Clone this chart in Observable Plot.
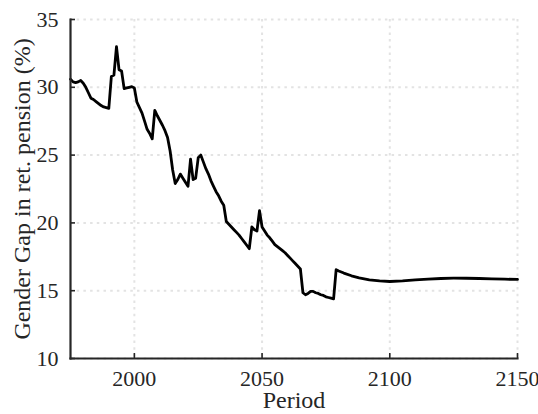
<!DOCTYPE html>
<html>
<head>
<meta charset="utf-8">
<script src="https://cdn.jsdelivr.net/npm/d3@7"></script>
<script src="https://cdn.jsdelivr.net/npm/@observablehq/plot@0.6"></script>
<style>
  html, body { margin: 0; padding: 0; background: #fff; }
  #chart svg { display: block; }
</style>
</head>
<body>
<div id="chart"></div>
<script>
// Simulated gender gap in retirement pensions, by period
const years = [
  1975, 1976, 1977, 1978, 1979, 1980, 1981, 1982, 1983, 1984,
  1985, 1986, 1987, 1988, 1989, 1990, 1991, 1992, 1993, 1994,
  1995, 1996, 1997, 1998, 1999, 2000, 2001, 2002, 2003, 2004,
  2005, 2006, 2007, 2008, 2009, 2010, 2011, 2012, 2013, 2014,
  2015, 2016, 2017, 2018, 2019, 2020, 2021, 2022, 2023, 2024,
  2025, 2026, 2027, 2028, 2029, 2030, 2031, 2032, 2033, 2034,
  2035, 2036, 2037, 2038, 2039, 2040, 2041, 2042, 2043, 2044,
  2045, 2046, 2047, 2048, 2049, 2050, 2051, 2052, 2053, 2054,
  2055, 2056, 2057, 2058, 2059, 2060, 2061, 2062, 2063, 2064,
  2065, 2066, 2067, 2068, 2069, 2070, 2071, 2072, 2073, 2074,
  2075, 2076, 2077, 2078, 2079, 2080, 2082, 2085, 2088, 2092,
  2096, 2100, 2105, 2110, 2115, 2120, 2125, 2130, 2135, 2140,
  2145, 2150
];
const gap = [
  30.6, 30.4, 30.35, 30.4, 30.5, 30.3, 30.0, 29.6, 29.2, 29.1,
  28.95, 28.8, 28.65, 28.55, 28.5, 28.45, 30.8, 30.9, 33.0, 31.3,
  31.2, 29.9, 29.95, 30.0, 30.05, 29.95, 28.9, 28.5, 28.1, 27.5,
  26.9, 26.6, 26.2, 28.3, 27.9, 27.55, 27.2, 26.8, 26.3, 25.3,
  23.9, 22.9, 23.2, 23.6, 23.3, 23.0, 22.7, 24.7, 23.2, 23.3,
  24.8, 25.0, 24.5, 24.0, 23.6, 23.1, 22.7, 22.3, 22.0, 21.6,
  21.3, 20.1, 19.9, 19.7, 19.5, 19.3, 19.1, 18.85, 18.6, 18.35,
  18.1, 19.7, 19.5, 19.4, 20.9, 19.7, 19.4, 19.1, 18.9, 18.65,
  18.4, 18.25, 18.1, 17.95, 17.8, 17.6, 17.4, 17.2, 17.0, 16.8,
  16.6, 14.85, 14.7, 14.8, 14.95, 14.95, 14.85, 14.8, 14.7, 14.65,
  14.55, 14.5, 14.45, 14.4, 16.55, 16.45, 16.3, 16.1, 15.95, 15.8,
  15.72, 15.68, 15.72, 15.8, 15.86, 15.9, 15.92, 15.92, 15.9, 15.87,
  15.85, 15.83
];
const xTicks = [2000, 2050, 2100, 2150];
const yTicks = [10, 15, 20, 25, 30, 35];
const xTitle = "Period";
const yTitle = "Gender Gap in ret. pension (%)";

const series = years.map((year, i) => ({year, value: gap[i]}));

const axisColor = "#262626";
const gridColor = "#e3e3e3";

const chart = Plot.plot({
  width: 538,
  height: 414,
  marginLeft: 70,
  marginRight: 21,
  marginTop: 19,
  marginBottom: 56,
  style: {fontFamily: "'Liberation Serif', 'DejaVu Serif', serif", fontSize: "22px", color: axisColor, background: "#fff"},
  x: {domain: [1975, 2150]},
  y: {domain: [10, 35]},
  marks: [
    Plot.gridX(xTicks, {stroke: gridColor, strokeOpacity: 1, strokeWidth: 2, strokeDasharray: "2.5,4.2"}),
    Plot.gridY(yTicks, {stroke: gridColor, strokeOpacity: 1, strokeWidth: 2, strokeDasharray: "2.5,4.2"}),
    Plot.line(series, {x: "year", y: "value", stroke: "#000", strokeWidth: 2.8, strokeLinejoin: "round"}),
    Plot.axisX(xTicks, {tickSize: -5, tickPadding: 17, tickFormat: d => String(d), stroke: axisColor, strokeWidth: 1.6, label: null, fill: axisColor}),
    Plot.axisY(yTicks, {tickSize: -5, tickPadding: 17, tickFormat: d => String(d), stroke: axisColor, strokeWidth: 1.6, label: null, fill: axisColor}),
    Plot.frame({anchor: "left", stroke: axisColor, strokeWidth: 2.2}),
    Plot.frame({anchor: "bottom", stroke: axisColor, strokeWidth: 2.2}),
    Plot.text([xTitle], {frameAnchor: "bottom", dy: 42, lineAnchor: "middle", textAnchor: "middle", text: d => d, fill: axisColor, fontSize: 24}),
    Plot.text([yTitle], {frameAnchor: "left", dx: -48, rotate: -90, lineAnchor: "middle", textAnchor: "middle", text: d => d, fill: axisColor, fontSize: 24})
  ]
});
document.getElementById("chart").appendChild(chart);
</script>
</body>
</html>
